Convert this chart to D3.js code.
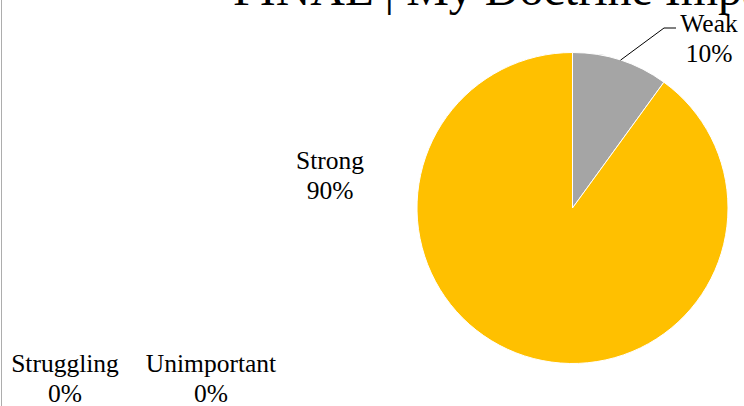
<!DOCTYPE html>
<html>
<head>
<meta charset="utf-8">
<script src="https://cdn.jsdelivr.net/npm/d3@7"></script>
<style>
  html, body { margin: 0; padding: 0; background: #fff; }
  svg { display: block; }
</style>
</head>
<body>
<div id="chart"></div>
<script>
// Survey categories and their shares (percent)
const categories = ["Struggling", "Unimportant", "Weak", "Strong"];
const shares = [0, 0, 10, 90];
const sliceColors = ["#4472C4", "#ED7D31", "#A5A5A5", "#FFC000"];
const chartTitle = "FINAL | My Doctrine Impact";

const W = 744, H = 406;
const cx = 572.5, cy = 208, radius = 155.5;
const serif = "'Liberation Serif', 'Times New Roman', Times, serif";

const svg = d3.select("#chart").append("svg")
  .attr("width", W).attr("height", H)
  .attr("font-family", serif);

// chart frame (left edge visible)
svg.append("line")
  .attr("x1", 1.5).attr("x2", 1.5).attr("y1", 0).attr("y2", H)
  .attr("stroke", "#ADADAD").attr("stroke-width", 1);

// title
svg.append("text")
  .attr("x", 233).attr("y", 5)
  .attr("font-family", serif)
  .attr("font-size", 48)
  .attr("fill", "#000")
  .text(chartTitle);

const data = categories.map((c, i) => ({ name: c, value: shares[i], color: sliceColors[i] }));

const pie = d3.pie().value(d => d.value).sort(null);
const arcs = pie(data);
const arc = d3.arc().innerRadius(0).outerRadius(radius);

const g = svg.append("g").attr("transform", `translate(${cx},${cy})`);

g.selectAll("path.slice")
  .data(arcs.filter(a => a.data.value > 0))
  .join("path")
  .attr("class", "slice")
  .attr("d", arc)
  .attr("fill", d => d.data.color)
  .attr("stroke", "#fff")
  .attr("stroke-width", 1);

// label placement for each category (text centre x, first baseline y)
const labelPlacement = {
  Struggling:  { x: 65,  y: 372 },
  Unimportant: { x: 211, y: 372 },
  Weak:        { x: 709, y: 32, leader: true },
  Strong:      { x: 330, y: 169 }
};

const fmt = d => `${Math.round(d)}%`;
const total = d3.sum(shares);

arcs.forEach(a => {
  const p = labelPlacement[a.data.name];
  const t = svg.append("text")
    .attr("text-anchor", "middle")
    .attr("font-family", serif)
    .attr("font-size", 25.5)
    .attr("fill", "#000");
  t.append("tspan").attr("x", p.x).attr("y", p.y).text(a.data.name);
  t.append("tspan").attr("x", p.x).attr("dy", 29.5).text(fmt(a.data.value / total * 100));

  if (p.leader) {
    // leader line from the slice edge at its mid-angle to the label
    const mid = (a.startAngle + a.endAngle) / 2;
    const sx = cx + Math.sin(mid) * radius;
    const sy = cy - Math.cos(mid) * radius;
    const ex = p.x - 33, ey = p.y - 4;
    svg.append("polyline")
      .attr("points", `${sx},${sy} ${ex - 12},${ey} ${ex},${ey}`)
      .attr("fill", "none")
      .attr("stroke", "#000")
      .attr("stroke-width", 1);
  }
});
</script>
</body>
</html>
